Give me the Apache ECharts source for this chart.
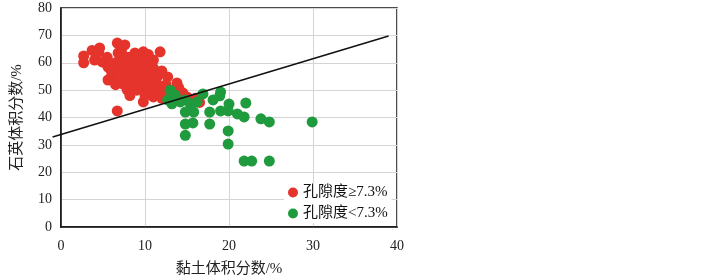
<!DOCTYPE html>
<html><head><meta charset="utf-8">
<script src="https://cdn.jsdelivr.net/npm/echarts@6/dist/echarts.min.js"></script>
<style>html,body{margin:0;padding:0;background:#fff}#c{width:722px;height:278px}</style>
</head><body><div id="c"></div>
<script>
var xTicks = [0, 10, 20, 30, 40];
var yTicks = [0, 10, 20, 30, 40, 50, 60, 70, 80];
var seriesNames = ['孔隙度≥7.3%', '孔隙度<7.3%'];
var xName = '黏土体积分数/%';
var yName = '石英体积分数/%';
var highPorosity = [
  [2.7,62.5],[2.7,60],[3.7,64.5],[4.6,65.4],[4.0,61],[4.9,60.3],[4.5,64],[5.5,62],
  [6.7,67.2],[7.6,66.5],[6.8,63.6],[5.6,58.4],[5.6,53.7],[6.2,56.2],[8.8,63.6],[9.8,64],[11.8,64],
  [7.9,50],[9.8,45.7],[6.7,42.4],[12.7,54.8],[13.8,52.6],[10.8,60],
  [6.5,60],[7,58],[7.5,61],[8,59],[8.5,57],[9,60],[9.5,58],[10,62],[10.5,56],[11,58],[11.5,55],[12,57],
  [12.5,52],[13,50],[13.5,48],[14,51],[14.5,49],[15,47.5],[15.5,46.5],[16,47],
  [6,55],[6.5,52],[7,54],[7.5,56],[8,54],[8.5,52],[9,55],[9.5,53],[10,51],[10.5,53],[11,50],[11.5,52],
  [12,49],[12.5,47],[13,46.5],[7,61],[8,62],[9,62],[10,59],[11,61],[8.2,48],[9,50],[10,48],[11,47.5],
  [12,47],[7.5,52],[10.2,55],[11.3,56],[9.2,57],[8,56.5],[6,57],[7.2,64],[8.6,60.5],[9.6,61],[10.4,63],
  [16.5,45.5]
];
var lowPorosity = [
  [13,50],[13.6,48.2],[12.7,46.4],[13.2,45],[14.2,45.7],[14.8,46.4],[15.4,44.9],[16.2,45.7],
  [16.9,48.6],[18.1,46.4],[18.9,47.9],[19,49.3],[20,44.9],[22,45.3],[14.8,42],[15.8,42],[17.7,42],
  [19,42.4],[19.9,42.4],[21,41.3],[21.8,40.2],[23.8,39.5],[24.8,38.4],[29.9,38.4],[14.8,37.6],
  [15.7,38],[14.8,33.5],[17.7,37.6],[19.9,35.1],[19.9,30.3],[21.8,24.1],[22.7,24.1],[24.8,24.1]
];
var trendX = [-1, 39];
var trendY = [32.9, 69.8];

var font = '"Liberation Serif", "Noto Sans CJK SC", serif';
var chart = echarts.init(document.getElementById('c'), null, {renderer: 'canvas'});
chart.setOption({
  animation: false,
  backgroundColor: '#fff',
  grid: {left: 61, right: 325, top: 8, bottom: 51, show: true, borderColor: '#111', borderWidth: 1.5,
         backgroundColor: 'transparent', outerBoundsMode: 'none', containLabel: false},
  legend: {
    orient: 'vertical', left: 284, top: 183, itemWidth: 10, itemHeight: 10, itemGap: 6,
    backgroundColor: '#fff', padding: [2, 4, 2, 4], z: 1,
    textStyle: {fontFamily: font, fontSize: 15, color: '#111'},
    data: [{name: seriesNames[0], icon: 'circle'}, {name: seriesNames[1], icon: 'circle'}]
  },
  xAxis: {
    type: 'value', min: xTicks[0], max: xTicks[xTicks.length - 1], interval: 10,
    name: xName, nameLocation: 'middle', nameGap: 35,
    nameTextStyle: {fontFamily: font, fontSize: 15, color: '#222'},
    axisLine: {show: true, lineStyle: {color: '#111', width: 1.5}},
    axisTick: {show: false},
    axisLabel: {fontFamily: font, fontSize: 14, color: '#222', margin: 12},
    splitLine: {show: true, lineStyle: {color: '#d8d4d4', width: 1}}
  },
  yAxis: {
    type: 'value', min: yTicks[0], max: yTicks[yTicks.length - 1], interval: 10,
    name: yName, nameLocation: 'middle', nameGap: 36,
    nameTextStyle: {fontFamily: font, fontSize: 15, color: '#222'},
    axisLine: {show: true, lineStyle: {color: '#111', width: 1.5}},
    axisTick: {show: false},
    axisLabel: {fontFamily: font, fontSize: 14, color: '#222', margin: 9},
    splitLine: {show: true, lineStyle: {color: '#d8d4d4', width: 1}}
  },
  series: [
    {name: seriesNames[0], type: 'scatter', symbolSize: 11, itemStyle: {color: '#e5342c', opacity: 1}, data: highPorosity, z: 2},
    {name: seriesNames[1], type: 'scatter', symbolSize: 11, itemStyle: {color: '#1f9a3d', opacity: 1}, data: lowPorosity, z: 3},
    {name: 'trend', type: 'custom', silent: true, z: 5, clip: false,
     data: [[trendX[0], trendY[0], trendX[1], trendY[1]]],
     encode: {x: [0, 2], y: [1, 3]},
     renderItem: function (params, api) {
       var p1 = api.coord([api.value(0), api.value(1)]);
       var p2 = api.coord([api.value(2), api.value(3)]);
       return {type: 'line', shape: {x1: p1[0], y1: p1[1], x2: p2[0], y2: p2[1]},
               style: {stroke: '#111', lineWidth: 1.5}};
     }}
  ]
});
</script></body></html>
